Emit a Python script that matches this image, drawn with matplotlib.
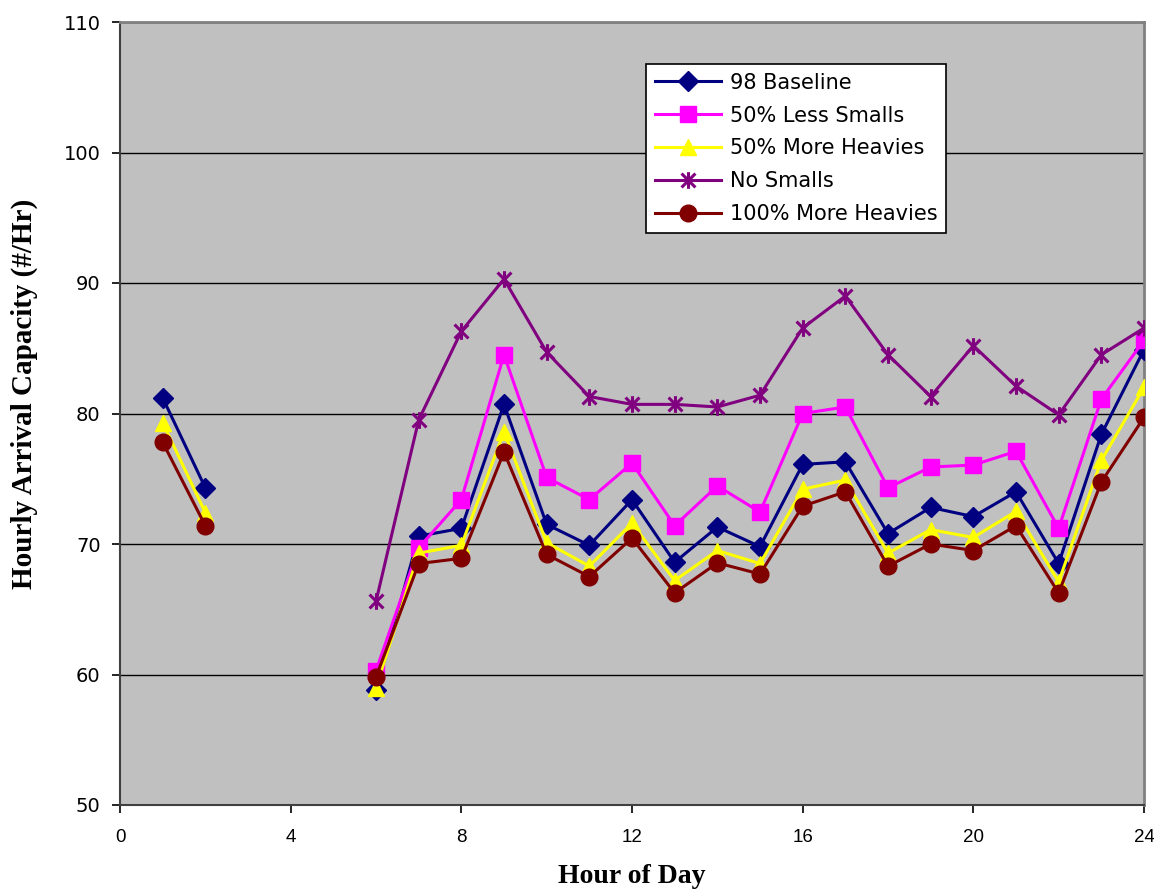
import numpy as np
import matplotlib
matplotlib.use("Agg")
import matplotlib.pyplot as plt
from matplotlib.path import Path

nan = np.nan
hours = list(range(1, 25))

# hours 3-5 have no data
baseline = [81.2, 74.3, nan, nan, nan, 58.8, 70.6, 71.2, 80.7, 71.5, 69.9, 73.4,
            68.6, 71.3, 69.8, 76.1, 76.3, 70.8, 72.8, 72.1, 74.0, 68.5, 78.4, 84.9]
less_smalls = [nan, nan, nan, nan, nan, 60.3, 69.7, 73.4, 84.5, 75.1, 73.4, 76.2,
               71.4, 74.45, 72.45, 80.0, 80.5, 74.3, 75.9, 76.05, 77.1, 71.2, 81.1, 85.6]
more_heavies_50 = [79.3, 72.4, nan, nan, nan, 59.0, 69.3, 69.9, 78.6, 70.1, 68.3, 71.6,
                   67.2, 69.5, 68.5, 74.2, 74.9, 69.3, 71.1, 70.5, 72.5, 67.1, 76.4, 82.0]
no_smalls = [nan, nan, nan, nan, nan, 65.6, 79.5, 86.3, 90.3, 84.7, 81.3, 80.7,
             80.7, 80.5, 81.4, 86.55, 89.0, 84.5, 81.3, 85.2, 82.1, 79.9, 84.5, 86.55]
more_heavies_100 = [77.8, 71.4, nan, nan, nan, 59.8, 68.5, 68.9, 77.05, 69.2, 67.5, 70.45,
                    66.25, 68.55, 67.7, 72.9, 74.0, 68.3, 70.0, 69.5, 71.4, 66.25, 74.75, 79.7]

labels = ["98 Baseline", "50% Less Smalls", "50% More Heavies", "No Smalls",
          "100% More Heavies"]

# asterisk marker: an X plus a vertical bar
star = Path([(-1, -1), (1, 1), (-1, 1), (1, -1), (0, -1.2), (0, 1.2)],
            [Path.MOVETO, Path.LINETO, Path.MOVETO, Path.LINETO, Path.MOVETO, Path.LINETO])

series = [
    (baseline, "#000080", "D", 10),
    (less_smalls, "#FF00FF", "s", 12),
    (more_heavies_50, "#FFFF00", "^", 12),
    (no_smalls, "#800080", star, 12),
    (more_heavies_100, "#800000", "o", 12),
]

fig = plt.figure(figsize=(11.54, 8.92), dpi=100)
ax = fig.add_axes([120 / 1154, 87 / 892, 1024 / 1154, 783 / 892])
ax.set_facecolor("#C0C0C0")

for (vals, col, mk, ms), lab in zip(series, labels):
    if mk is star:
        ax.plot(hours, vals, "-", color=col, lw=2.2, marker=mk, ms=ms,
                mfc="none", mec=col, mew=2.2, label=lab, zorder=3)
    else:
        ax.plot(hours, vals, "-", color=col, lw=2.2, marker=mk, ms=ms,
                mfc=col, mec=col, label=lab, zorder=3)

ax.set_xlim(0, 24)
ax.set_ylim(50, 110)
ax.set_xticks(range(0, 25, 4))
ax.set_yticks(range(50, 111, 10))
ax.yaxis.grid(True, color="black", lw=1.0)
ax.set_axisbelow(True)
ax.tick_params(direction="out", length=6, width=1.2, labelsize=14, colors="black")
ax.tick_params(axis="x", pad=11, labelsize=13.5)
ax.tick_params(axis="y", pad=8)
for t in ax.get_xticklabels():
    t.set_family("Liberation Sans")
for sp in ["top", "right"]:
    ax.spines[sp].set_color("#808080")
    ax.spines[sp].set_linewidth(2)
for sp in ["left", "bottom"]:
    ax.spines[sp].set_color("#404040")
    ax.spines[sp].set_linewidth(1.5)

ax.set_xlabel("Hour of Day", family="Liberation Serif", fontweight="bold",
              fontsize=20)
ax.xaxis.set_label_coords(0.5, -0.075)
ax.set_ylabel("Hourly Arrival Capacity (#/Hr)", family="Liberation Serif",
              fontweight="bold", fontsize=21)
ax.yaxis.set_label_coords(-0.08, 0.525)

leg = ax.legend(loc="upper left", bbox_to_anchor=(0.514, 0.946), fontsize=15,
                frameon=True, fancybox=False, edgecolor="black", framealpha=1,
                handlelength=3.2, labelspacing=0.62, borderpad=0.4,
                handletextpad=0.4, borderaxespad=0)
leg.get_frame().set_linewidth(1.2)

plt.savefig("out.png", dpi=100)
